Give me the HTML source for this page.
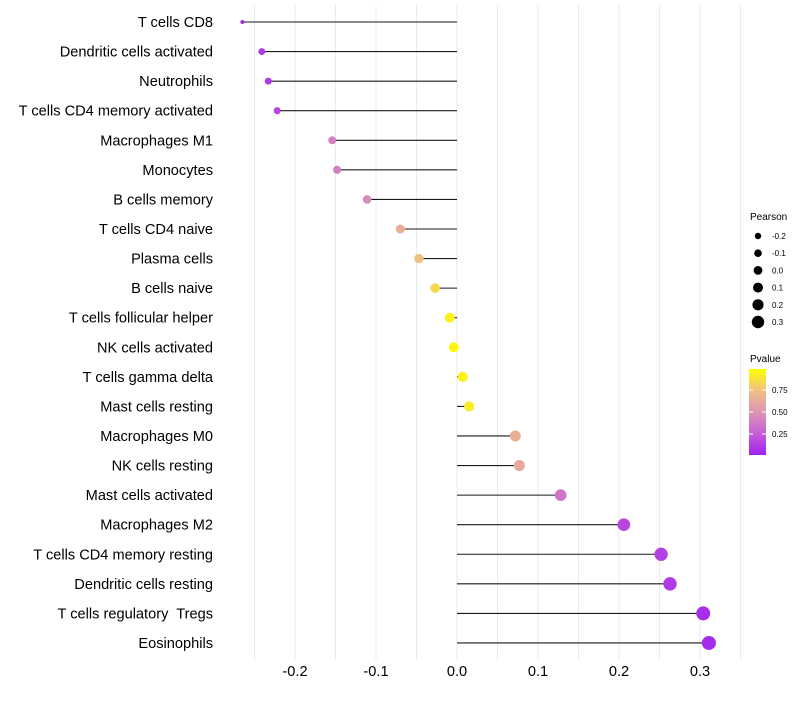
<!DOCTYPE html>
<html><head><meta charset="utf-8"><style>
body{margin:0;background:#fff;font-family:"Liberation Sans",sans-serif}
svg text{font-family:"Liberation Sans",sans-serif;white-space:pre}
</style></head><body>
<svg id="chart" width="800" height="700" xmlns="http://www.w3.org/2000/svg">
<defs><linearGradient id="pg" x1="0" y1="1" x2="0" y2="0">
<stop offset="0" stop-color="#a020f0"/><stop offset="0.25" stop-color="#c660d6"/><stop offset="0.5" stop-color="#dc95b4"/><stop offset="0.75" stop-color="#f0c084"/><stop offset="1" stop-color="#ffff00"/></linearGradient></defs>
<g id="grid"></g>
<g id="marks"></g>
<g id="labels"></g>
<g id="xt"></g>
<g id="sizeleg">
<text x="750" y="220" font-size="10" fill="#000">Pearson</text>
</g>
<g>
<text x="750" y="362" font-size="10" fill="#000">Pvalue</text>
<rect x="749" y="369" width="17" height="86" fill="url(#pg)"/>
<g id="cbt"></g>
</g>
</svg>
<script>
const categories=["T cells CD8","Dendritic cells activated","Neutrophils","T cells CD4 memory activated","Macrophages M1","Monocytes","B cells memory","T cells CD4 naive","Plasma cells","B cells naive","T cells follicular helper","NK cells activated","T cells gamma delta","Mast cells resting","Macrophages M0","NK cells resting","Mast cells activated","Macrophages M2","T cells CD4 memory resting","Dendritic cells resting","T cells regulatory  Tregs","Eosinophils"];
const pearson=[-0.265,-0.241,-0.233,-0.222,-0.154,-0.148,-0.111,-0.070,-0.047,-0.027,-0.009,-0.004,0.007,0.015,0.072,0.077,0.128,0.206,0.252,0.263,0.304,0.311];
const pvalue=[0.05,0.1,0.1,0.15,0.4,0.4,0.45,0.65,0.75,0.85,0.95,0.97,0.95,0.92,0.65,0.62,0.35,0.15,0.12,0.1,0.05,0.04];
const xTicks=[-0.2,-0.1,0.0,0.1,0.2,0.3];
const xTickLabels=["-0.2","-0.1","0.0","0.1","0.2","0.3"];
const sizeLegend=[-0.2,-0.1,0.0,0.1,0.2,0.3];
const sizeLegendLabels=["-0.2","-0.1","0.0","0.1","0.2","0.3"];
const cbTicks=[0.25,0.5,0.75];
const cbLabels=["0.25","0.50","0.75"];
const NS="http://www.w3.org/2000/svg";
const x=v=>457+v*810;
const y=i=>22+i*29.57;
const r=p=>p<-0.26?2:Math.max(2,5.0+6.5*p);
const lr=p=>3+6*(p+0.2)+0.2;
const cby=v=>412-(v-0.5)*88;
function col(v){const st=[[0,[160,32,240]],[0.25,[198,96,214]],[0.5,[220,149,180]],[0.75,[240,192,132]],[1,[255,255,0]]];
v=Math.max(0,Math.min(1,v));for(let k=1;k<st.length;k++){if(v<=st[k][0]){const t=(v-st[k-1][0])/(st[k][0]-st[k-1][0]);const a=st[k-1][1],b=st[k][1];return `rgb(${a.map((c,j)=>Math.round(c+(b[j]-c)*t)).join(',')})`;}}return 'rgb(255,255,0)';}
function mk(tag,attrs,parent){const e=document.createElementNS(NS,tag);for(const k in attrs)e.setAttribute(k,attrs[k]);parent.appendChild(e);return e;}
const grid=document.getElementById('grid');
for(let g=-0.25;g<=0.351;g+=0.05){const l=mk('line',{x1:x(g),x2:x(g),y1:5,y2:660,stroke:'#ebebeb','stroke-width':1},grid);

}
const marks=document.getElementById('marks'),labels=document.getElementById('labels');
categories.forEach((c,i)=>{
const s=mk('line',{x1:x(0),x2:x(pearson[i]),y1:y(i),y2:y(i),stroke:'#1a1a1a','stroke-width':1.1},marks);


const p=mk('circle',{cx:x(pearson[i]),cy:y(i),r:r(pearson[i]),fill:col(pvalue[i])},marks);


const t=mk('text',{x:213,y:y(i)+5,'text-anchor':'end','font-size':14.6,fill:'#000'},labels);
t.textContent=c;


});
const xt=document.getElementById('xt');
xTicks.forEach((v,i)=>{const t=mk('text',{x:x(v),y:676,'text-anchor':'middle','font-size':14.6,fill:'#000'},xt);
t.textContent=xTickLabels[i];

});
const sl=document.getElementById('sizeleg');
sizeLegend.forEach((v,i)=>{const cy=236+i*17.2;
const c=mk('circle',{cx:758,cy:cy,r:lr(v),fill:'#000'},sl);


const t=mk('text',{x:772,y:cy+3,'font-size':8,fill:'#000'},sl);
t.textContent=sizeLegendLabels[i];

});
const cbt=document.getElementById('cbt');
cbTicks.forEach((v,i)=>{
const l=mk('line',{x1:749,x2:753,y1:cby(v),y2:cby(v),stroke:'#fff'},cbt);


const l2=mk('line',{x1:762,x2:766,y1:cby(v),y2:cby(v),stroke:'#fff'},cbt);


const t=mk('text',{x:772,y:cby(v)+3,'font-size':8,fill:'#000'},cbt);
t.textContent=cbLabels[i];

});
</script>
</body></html>
